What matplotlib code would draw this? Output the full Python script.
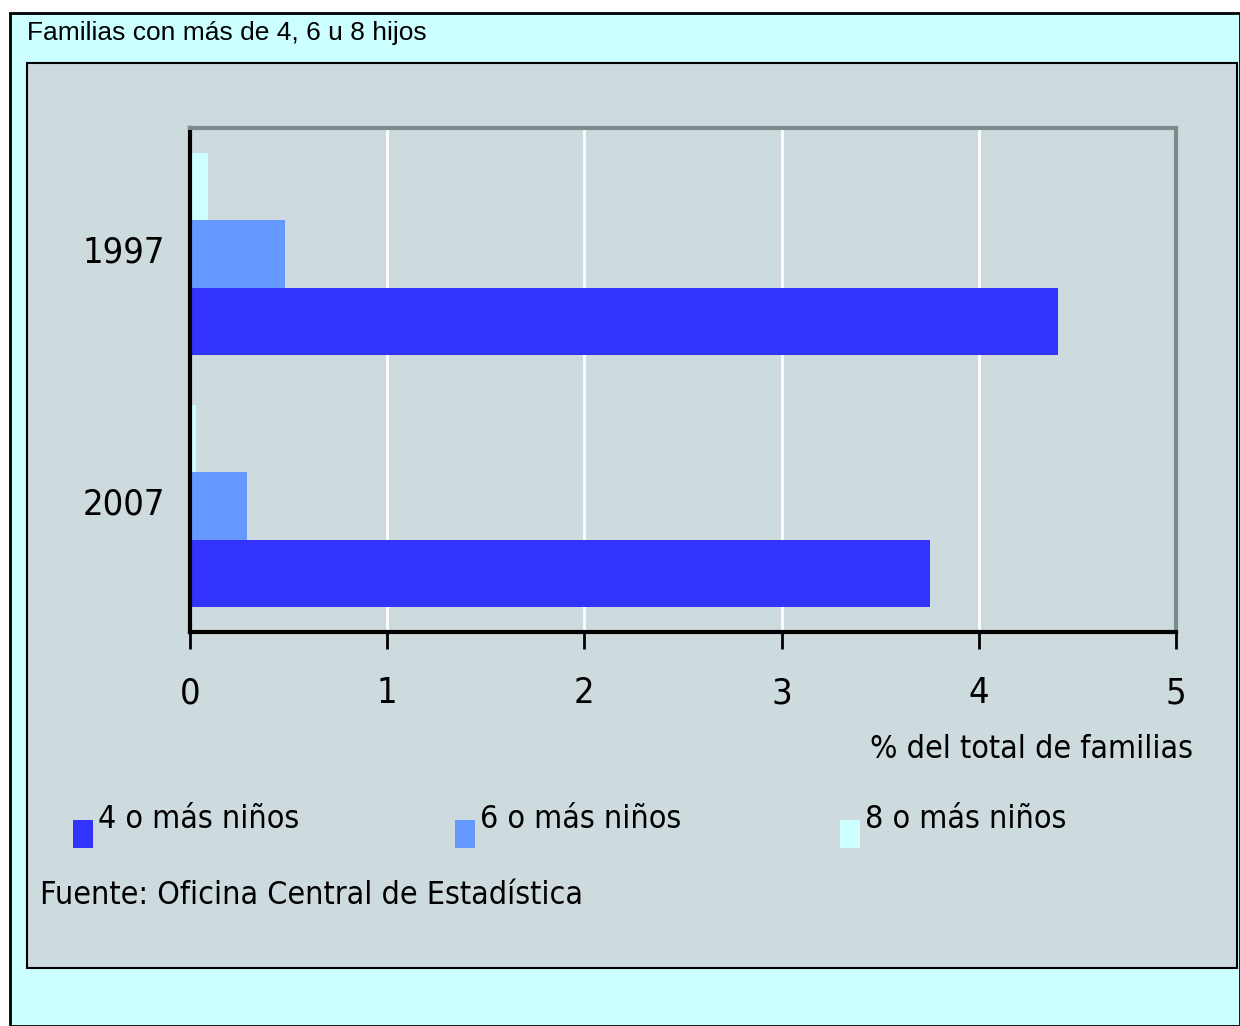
import matplotlib.pyplot as plt
from matplotlib.patches import Rectangle
import numpy as np

years = ["1997", "2007"]
series_names = ["4 o más niños", "6 o más niños", "8 o más niños"]
cuatro = [4.40, 3.75]
seis = [0.48, 0.29]
ocho = [0.09, 0.03]
x_ticks = [0, 1, 2, 3, 4, 5]

colors = ["#3333ff", "#6699ff", "#ccffff"]
font = ["DejaVu Sans"]

W, H = 1240, 1026
fig = plt.figure(figsize=(W / 100, H / 100), dpi=100)
fig.patch.set_facecolor("white")


def fx(px):
    return px / W


def fy(py):
    return 1 - py / H


# outer light cyan frame and inner grey panel (behind the axes)
fig.patches.append(Rectangle((fx(10), 0), 1 - fx(10), fy(13), transform=fig.transFigure,
                             facecolor="#ccffff", edgecolor="black", linewidth=2, zorder=-2))
fig.patches.append(Rectangle((fx(27), fy(968)), fx(1237) - fx(27), fy(63) - fy(968),
                             transform=fig.transFigure, facecolor="#cddbdf",
                             edgecolor="black", linewidth=1.5, zorder=-1))

fig.text(fx(27), fy(33), "Familias con más de 4, 6 u 8 hijos", fontsize=19,
         family=["Liberation Sans", "DejaVu Sans"], va="center", ha="left")

ax = fig.add_axes([fx(190), fy(632), fx(1176) - fx(190), fy(128) - fy(632)])
ax.set_facecolor("#cddbdf")

y = np.arange(len(years))
h = 0.266
ax.barh(y + h, cuatro, height=h, color=colors[0], label=series_names[0])
ax.barh(y, seis, height=h, color=colors[1], label=series_names[1])
ax.barh(y - h, ocho, height=h, color=colors[2], label=series_names[2])

ax.set_xlim(0, 5)
ax.set_ylim(1.5, -0.5)
ax.set_xticks(x_ticks)
ax.set_xticklabels([str(t) for t in x_ticks], fontsize=26, family=font, stretch="condensed")
ax.set_yticks(y - 0.02)
ax.set_yticklabels(years, fontsize=26, family=font, stretch="condensed")
ax.tick_params(axis="x", length=12, width=2, direction="out", pad=20)
ax.tick_params(axis="y", length=0, pad=18)
ax.xaxis.grid(True, color="white", linewidth=2)
ax.set_axisbelow(True)
for side in ["top", "right"]:
    ax.spines[side].set_color("#7f8a8a")
    ax.spines[side].set_linewidth(3)
for side in ["left", "bottom"]:
    ax.spines[side].set_color("black")
    ax.spines[side].set_linewidth(3)

fig.text(fx(1193), fy(750), "% del total de familias", fontsize=23, family=font,
         stretch="condensed", ha="right", va="center")

# legend drawn as squares + labels
leg_x = [73, 455, 840]
for lx, name, c in zip(leg_x, series_names, colors):
    fig.patches.append(Rectangle((fx(lx), fy(848)), fx(20), fy(820) - fy(848),
                                 transform=fig.transFigure, facecolor=c, edgecolor="none"))
    fig.text(fx(lx + 25), fy(820), name, fontsize=23, family=font, stretch="condensed",
             ha="left", va="center")

fig.text(fx(40), fy(895), "Fuente: Oficina Central de Estadística", fontsize=23,
         family=font, stretch="condensed", ha="left", va="center")

fig.savefig("out.png", dpi=100)
